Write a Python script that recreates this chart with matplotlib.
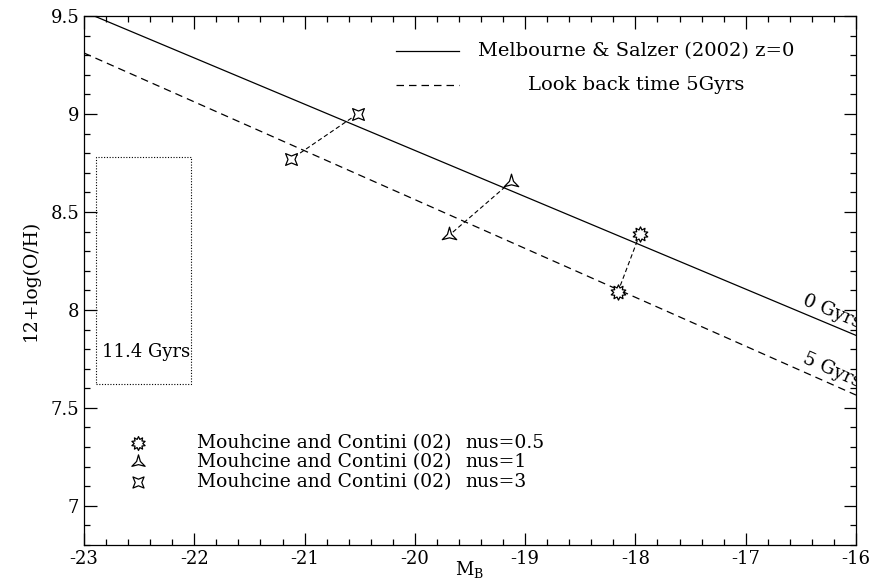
import matplotlib
matplotlib.use("Agg")
import matplotlib.pyplot as plt
import numpy as np
from matplotlib.path import Path
from matplotlib.ticker import MultipleLocator

# ---------------------------------------------------------------
# Relaciones metalicidad-luminosidad y modelos de Mouhcine & Contini
# ---------------------------------------------------------------
mb_range = [-23.0, -16.0]

# z=0 (Melbourne & Salzer 2002): 12+log(O/H) = a + b*M_B
ms_a, ms_b = 4.094, -0.236
# lookback time 5 Gyr
lb_a, lb_b = 3.575, -0.2494

# pares de modelos (z=0 -> 5 Gyr atras)
mb_nus05 = [-17.96, -18.16]
oh_nus05 = [8.387, 8.09]
mb_nus1 = [-19.13, -19.69]
oh_nus1 = [8.653, 8.38]
mb_nus3 = [-20.52, -21.12]
oh_nus3 = [9.00, 8.77]

# caja de 11.4 Gyr
box_mb = [-22.89, -22.03]
box_oh = [7.62, 8.78]

plt.rcParams["font.family"] = "DejaVu Serif"
plt.rcParams["mathtext.fontset"] = "dejavuserif"


def estrella(n, r_in, ang=90):
    # marcador en forma de estrella de n puntas con radio interior r_in
    t = np.deg2rad(ang) + np.arange(2 * n) * np.pi / n
    r = np.where(np.arange(2 * n) % 2 == 0, 1.0, r_in)
    v = np.column_stack([r * np.cos(t), r * np.sin(t)])
    v = np.vstack([v, v[:1]])
    codes = [Path.MOVETO] + [Path.LINETO] * (2 * n - 1) + [Path.CLOSEPOLY]
    return Path(v, codes)


mk_sun = estrella(10, 0.62)
mk_tri = estrella(3, 0.28)
mk_star = estrella(4, 0.42, 45)

fig = plt.figure(figsize=(8.74, 5.8), dpi=100)
ax = fig.add_axes([0.0961, 0.0603, 0.8833, 0.9121])

x = np.array(mb_range)
ax.plot(x, ms_a + ms_b * x, color="black", lw=0.9)
ax.plot(x, lb_a + lb_b * x, color="black", lw=0.9, dashes=(6, 4))

style = dict(color="black", lw=0.8, dashes=(4, 2.5), mfc="white", mec="black", mew=0.9)
ax.plot(mb_nus05, oh_nus05, marker=mk_sun, ms=11, **style)
ax.plot(mb_nus1, oh_nus1, marker=mk_tri, ms=12, **style)
ax.plot(mb_nus3, oh_nus3, marker=mk_star, ms=8.5, **style)

# caja punteada
bx = [box_mb[0], box_mb[1], box_mb[1], box_mb[0], box_mb[0]]
by = [box_oh[0], box_oh[0], box_oh[1], box_oh[1], box_oh[0]]
ax.plot(bx, by, color="black", lw=0.8, ls=(0, (1, 1.5)))
ax.text(-22.84, 7.785, "11.4 Gyrs", fontsize=13, va="center", ha="left")

# etiquetas sobre las rectas
ax.text(-15.99, 7.885, "0 Gyrs", fontsize=13.5, rotation=-22.8, rotation_mode="anchor",
        ha="right", va="bottom", clip_on=True)
ax.text(-15.99, 7.585, "5 Gyrs", fontsize=13.5, rotation=-23.9, rotation_mode="anchor",
        ha="right", va="bottom", clip_on=True)

# leyenda superior
ax.plot([-20.17, -19.6], [9.32, 9.32], color="black", lw=0.9)
ax.plot([-20.17, -19.6], [9.15, 9.15], color="black", lw=0.9, dashes=(6, 4))
ax.text(-17.99, 9.32, "Melbourne & Salzer (2002) z=0", fontsize=14, ha="center", va="center")
ax.text(-17.99, 9.15, "Look back time 5Gyrs", fontsize=14, ha="center", va="center")

# leyenda inferior
leg_y = [7.32, 7.223, 7.121]
leg_mk = [mk_sun, mk_tri, mk_star]
leg_ms = [10, 11, 8]
leg_nus = ["nus=0.5", "nus=1", "nus=3"]
for yy, mk, msz, nus in zip(leg_y, leg_mk, leg_ms, leg_nus):
    ax.plot([-22.51], [yy], marker=mk, ms=msz, mfc="white", mec="black", mew=0.9, ls="none")
    ax.text(-21.975, yy, "Mouhcine and Contini (02)", fontsize=13.5, va="center", ha="left")
    ax.text(-19.545, yy, nus, fontsize=13.5, va="center", ha="left")

ax.set_xlim(-23, -16)
ax.set_ylim(6.8, 9.5)
ax.xaxis.set_major_locator(MultipleLocator(1))
ax.xaxis.set_minor_locator(MultipleLocator(0.2))
ax.yaxis.set_major_locator(MultipleLocator(0.5))
ax.yaxis.set_minor_locator(MultipleLocator(0.1))
ax.tick_params(which="both", direction="in", top=True, right=True, labelsize=13, width=0.9)
ax.tick_params(which="major", length=9)
ax.tick_params(which="minor", length=4.5)
ax.set_xticks(np.arange(-23, -15.5, 1))
ax.set_xticklabels([str(v) for v in range(-23, -15)])
ax.set_yticks([7, 7.5, 8, 8.5, 9, 9.5])
ax.set_yticklabels(["7", "7.5", "8", "8.5", "9", "9.5"])
for s in ax.spines.values():
    s.set_linewidth(0.9)

ax.text(0.5, -0.047, r"M$_\mathrm{B}$", transform=ax.transAxes, fontsize=13,
        ha="center", va="center")
ax.set_ylabel("12+log(O/H)", fontsize=13.5, labelpad=8)

fig.savefig("out.png", dpi=100)
